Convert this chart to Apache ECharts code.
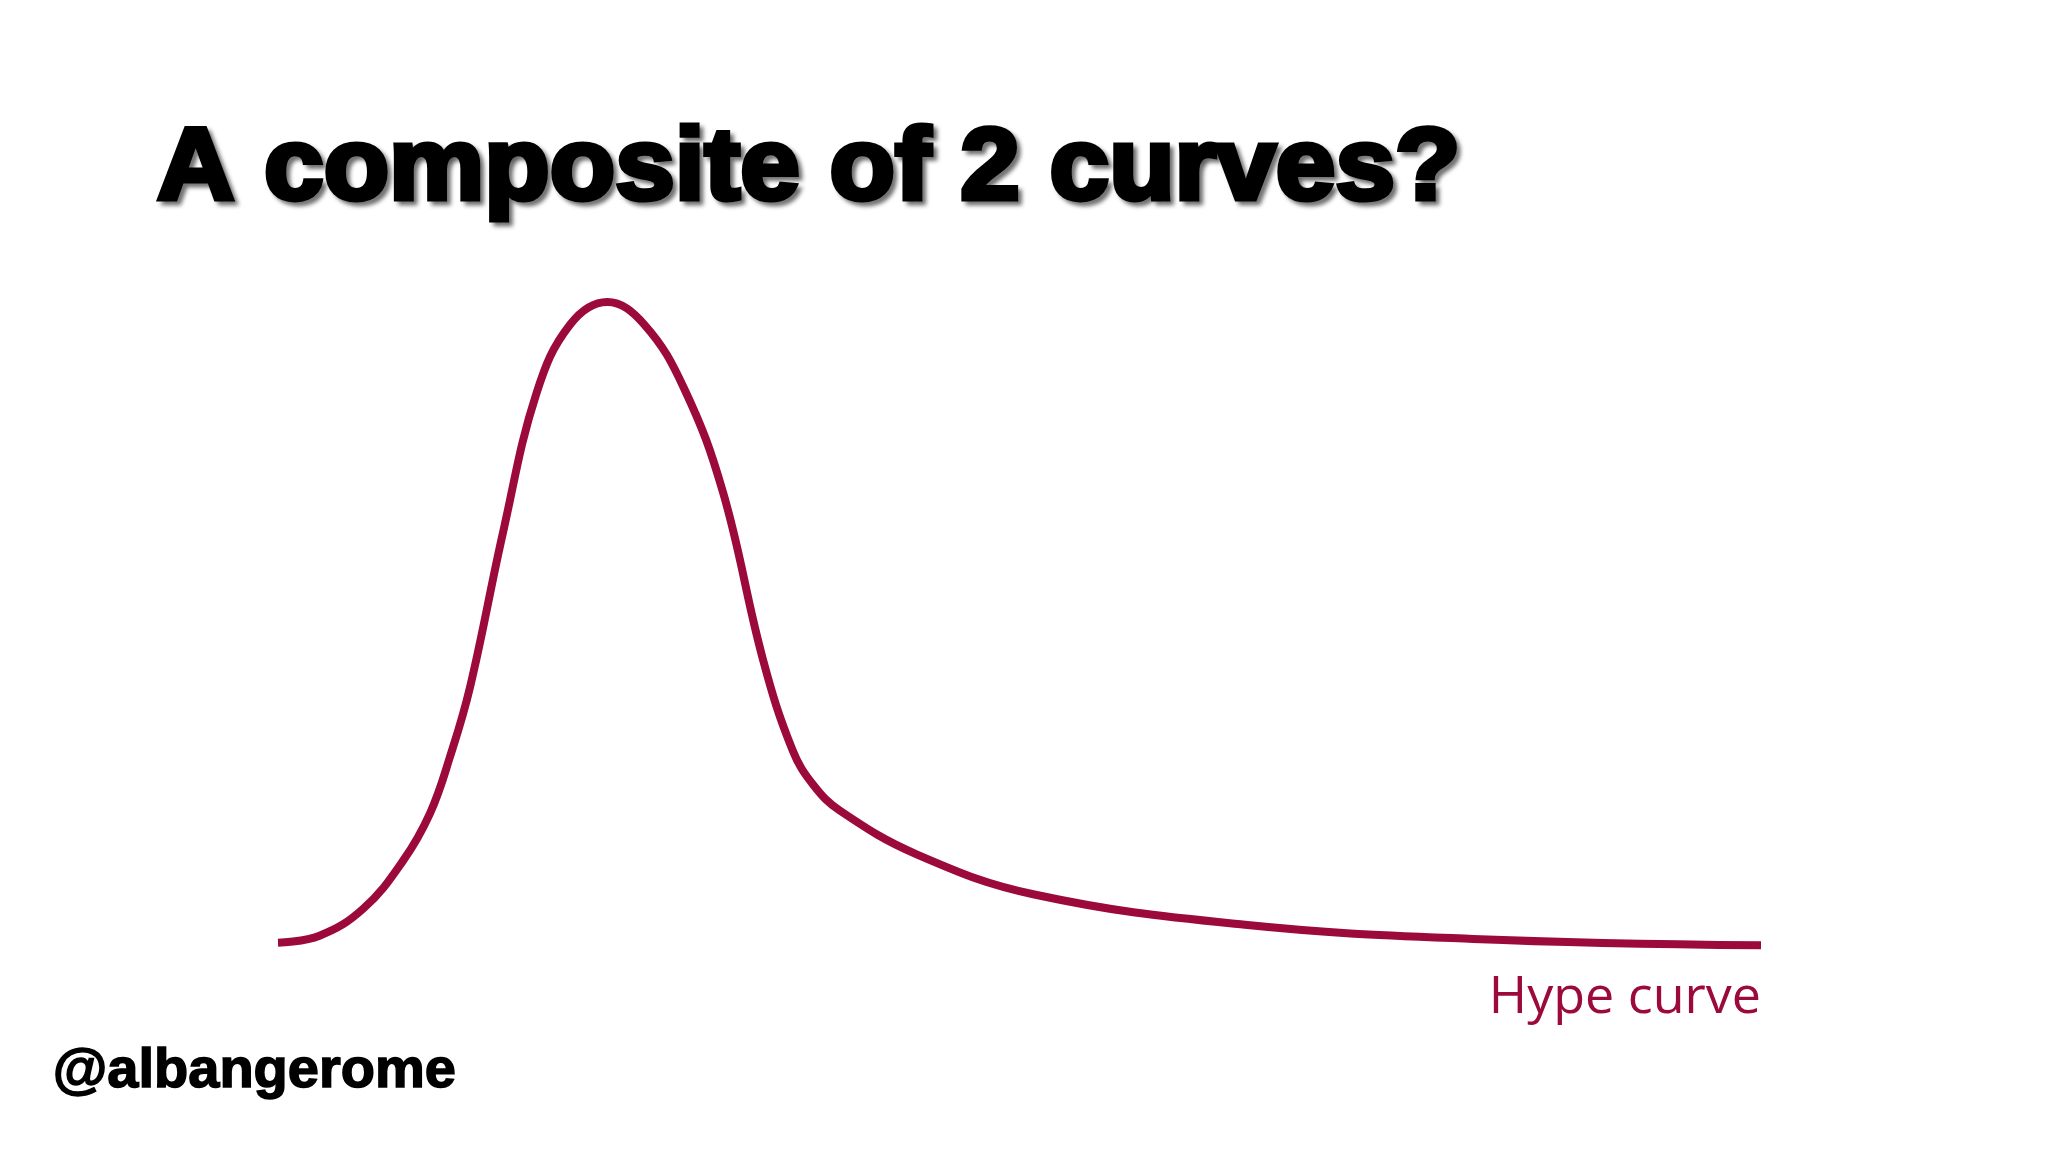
<!DOCTYPE html>
<html>
<head>
<meta charset="utf-8">
<title>A composite of 2 curves?</title>
<script src="https://cdn.jsdelivr.net/npm/echarts@6/dist/echarts.min.js"></script>
<style>
  html, body { margin: 0; padding: 0; background: #ffffff; }
  #chart { width: 2048px; height: 1152px; }
</style>
</head>
<body>
<div id="chart"></div>
<script>
  // hype curve (x: 0..100 across, y: 0..100 of peak)
  const hypeX = [0, 2.8, 5.75, 8.45, 10.25, 11.6, 12.95, 15.19, 17.44, 19.7, 22.2, 24.7, 27.4, 30.0, 32.7, 34.7, 36.1, 37.9, 43.1, 51, 65.2, 80.6, 100];
  const hypeY = [0.5, 1.6, 5.8, 13.3, 20.6, 29.4, 40.2, 64.4, 85.9, 96.5, 100, 96.5, 86.5, 70.5, 44.5, 30.4, 25.0, 21.0, 14.2, 8.0, 3.3, 1.1, 0.1];
  const seriesName = 'Hype curve';
  const titleText = 'A composite of 2 curves?';
  const handle = '@albangerome';

  const lineColor = '#9b0a3b';

  const chart = echarts.init(document.getElementById('chart'));

  const option = {
    backgroundColor: '#ffffff',
    animation: false,
    grid: { left: 278, right: 287, top: 302, bottom: 206 },
    xAxis: { type: 'value', min: 0, max: 100, show: false },
    yAxis: { type: 'value', min: 0, max: 100, show: false },
    series: [
      {
        name: seriesName,
        type: 'line',
        data: hypeX.map((x, i) => [x, hypeY[i]]),
        smooth: 0.4,
        showSymbol: false,
        lineStyle: { color: lineColor, width: 8, cap: 'butt', join: 'round' },
      },
    ],
    graphic: [
      {
        type: 'text',
        x: 157,
        y: 120,
        scaleX: 1.05,
        style: {
          text: titleText,
          font: 'bold 102px "Liberation Sans", Arial, sans-serif',
          fill: '#000000',
          stroke: '#000000',
          lineWidth: 5,
          textShadowColor: 'rgba(0,0,0,0.45)',
          textShadowOffsetX: 4,
          textShadowOffsetY: 4,
          textShadowBlur: 4,
        },
      },
      {
        type: 'text',
        right: 287,
        top: 972,
        style: {
          text: seriesName,
          font: '52px "Open Sans", "Noto Sans", sans-serif',
          fill: lineColor,
        },
      },
      {
        type: 'text',
        left: 52,
        top: 1043,
        style: {
          text: handle,
          font: 'bold 56px "Liberation Sans", Arial, sans-serif',
          fill: '#000000',
          stroke: '#000000',
          lineWidth: 1.5,
        },
      },
    ],
  };

  chart.setOption(option);
</script>
</body>
</html>
